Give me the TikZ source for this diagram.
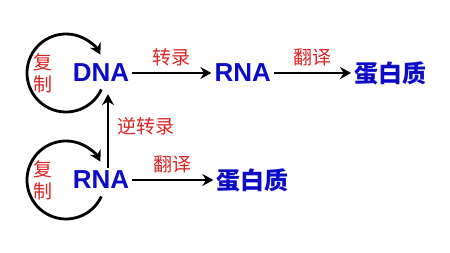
\documentclass[tikz,border=0pt]{standalone}
\usepackage{fontspec}
\setmainfont{Liberation Sans}
\newfontfamily\cjk{Noto Sans CJK SC}
\usetikzlibrary{positioning,arrows.meta}
\definecolor{molblue}{RGB}{12,12,200}
\definecolor{procred}{RGB}{220,35,35}
\begin{document}
\begin{tikzpicture}[
  x=1pt, y=1pt,
  mol/.style={text=molblue, inner sep=3pt, font=\fontsize{26}{26}\selectfont\bfseries},
  prot/.style={text=molblue, inner sep=3pt, font=\fontsize{24}{24}\selectfont\cjk\bfseries},
  proc/.style={text=procred, inner sep=2pt, font=\fontsize{19}{19}\selectfont\cjk},
  rep/.style={text=procred, inner sep=3pt, align=center, font=\fontsize{19}{22}\selectfont\cjk},
  flow/.style={line width=2.8pt, -{Stealth[length=11pt,width=12pt]}}
]
\useasboundingbox (0,0) rectangle (450,253);
\node[mol] (dna) at (101,180) {DNA};
\node[mol] (rna) [right=79pt of dna] {RNA};
\node[prot] (prot1) [right=77pt of rna] {蛋白质};
\node[mol] (rna2) at (101,73) {RNA};
\node[prot] (prot2) [right=81pt of rna2] {蛋白质};
\node[rep] (rep1) [left=14pt of dna] {复\\制};
\node[rep] (rep2) [left=14pt of rna2] {复\\制};
\coordinate (loop1) at ([xshift=-35pt]dna.center);
\coordinate (loop2) at ([xshift=-35pt]rna2.center);
% replication loops
\draw[flow] (loop1) ++(-25:39pt) arc[start angle=-25, end angle=-332, radius=39pt];
\draw[flow] (loop2) ++(-25:39pt) arc[start angle=-25, end angle=-332, radius=39pt];
% transcription and translation
\draw[flow] (dna) -- (rna) node[proc, midway, above=4pt] {转录};
\draw[flow] (rna) -- (prot1) node[proc, midway, above=4pt] {翻译};
\draw[flow] (rna2) -- (prot2) node[proc, midway, above=4pt] {翻译};
\draw[flow, shorten >=9pt] ([xshift=7pt]rna2.north) -- ([xshift=7pt]dna.south) node[proc, midway, right=6pt] {逆转录};
\end{tikzpicture}
\end{document}
